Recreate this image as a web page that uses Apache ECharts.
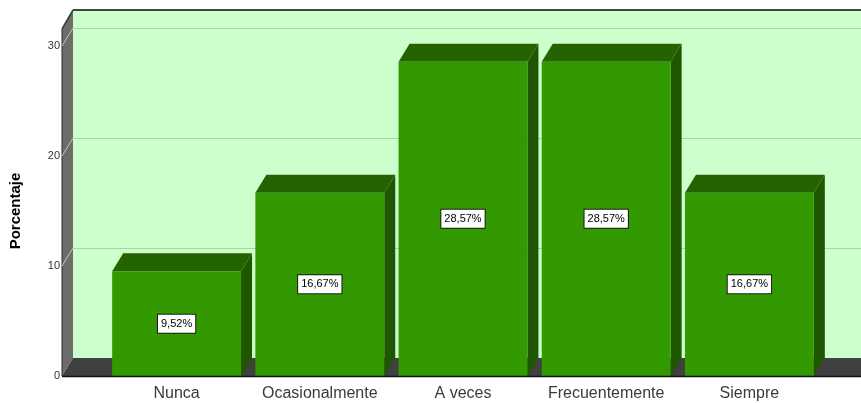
<!DOCTYPE html>
<html>
<head>
<meta charset="utf-8">
<script src="https://cdn.jsdelivr.net/npm/echarts@6/dist/echarts.min.js"></script>
<style>
  html, body { margin: 0; padding: 0; background: #ffffff; }
  #chart { width: 861px; height: 403px; }
</style>
</head>
<body>
<div id="chart"></div>
<script>
// Frequency distribution (percent of answers per option)
const categories = ['Nunca', 'Ocasionalmente', 'A veces', 'Frecuentemente', 'Siempre'];
const percentages = [9.52, 16.67, 28.57, 28.57, 16.67];
const yTicks = [0, 10, 20, 30];

// 3D look: depth offset of the back plane (px)
const DX = 11, DY = 18;
const FONT = '"Liberation Sans", Arial, sans-serif';

const chart = echarts.init(document.getElementById('chart'), null, { renderer: 'canvas' });

const yMin = yTicks[0], yMax = yTicks[yTicks.length - 1], yStep = yTicks[1] - yTicks[0];
const fmt = v => v.toFixed(2).replace('.', ',') + '%';

function renderBar(params, api) {
  const i = api.value(0), v = api.value(1);
  const base = api.coord([i, 0]);
  const top = api.coord([i, v]);
  const w = api.size([1, 0])[0] * 0.9;
  const x = base[0] - w / 2, y0 = base[1], y1 = top[1];
  return {
    type: 'group',
    children: [
      { type: 'polygon', shape: { points: [[x + w, y1], [x + w + DX, y1 - DY], [x + w + DX, y0 - DY], [x + w, y0]] },
        style: { fill: '#1f5700' } },
      { type: 'polygon', shape: { points: [[x, y1], [x + DX, y1 - DY], [x + w + DX, y1 - DY], [x + w, y1]] },
        style: { fill: '#236400' } },
      { type: 'rect', shape: { x: x, y: y1, width: w, height: y0 - y1 }, style: { fill: '#339900' } },
      { type: 'text', x: base[0], y: (y0 + y1) / 2,
        style: { text: fmt(v), align: 'center', verticalAlign: 'middle', fontSize: 11, fontFamily: FONT,
                 fill: '#000', backgroundColor: '#ffffff', borderColor: '#1a1a1a', borderWidth: 1,
                 padding: [4, 3, 3, 3] } }
    ]
  };
}

chart.setOption({
  animation: false,
  backgroundColor: '#ffffff',
  grid: [
    { left: 101, right: 40, top: 46, bottom: 27 },
    { left: 73, right: 0, top: 10, bottom: 45, show: true, backgroundColor: '#ccffcc', borderWidth: 0 }
  ],
  xAxis: [
    { type: 'category', gridIndex: 0, data: categories,
      axisLine: { show: false }, axisTick: { show: false }, splitLine: { show: false },
      axisLabel: { interval: 0, hideOverlap: false, fontSize: 16, color: '#3a3a3a', fontFamily: FONT, margin: 10 } },
    { type: 'value', gridIndex: 1, show: false, min: 0, max: 1 }
  ],
  yAxis: [
    { type: 'value', gridIndex: 0, min: yMin, max: yMax, interval: yStep, offset: 39,
      name: 'Porcentaje', nameLocation: 'middle', nameGap: 43,
      nameTextStyle: { fontSize: 15, fontWeight: 'bold', color: '#000', fontFamily: FONT },
      axisLine: { show: false }, axisTick: { show: false }, splitLine: { show: false },
      axisLabel: { fontSize: 11, color: '#333', fontFamily: FONT, margin: 6 } },
    { type: 'value', gridIndex: 1, min: yMin, max: yMax + DY / 11, interval: yStep,
      axisLine: { show: false }, axisTick: { show: false }, axisLabel: { show: false },
      splitLine: { show: true, lineStyle: { color: '#a6d6a6', width: 1 } } }
  ],
  series: [{
    type: 'custom',
    xAxisIndex: 0, yAxisIndex: 0,
    clip: false,
    z: 5,
    renderItem: renderBar,
    encode: { x: 0, y: 1 },
    data: percentages.map((v, i) => [i, v])
  }]
});

// Walls, floor and edges of the 3D frame, placed from the axes
const zeroY = chart.convertToPixel({ yAxisIndex: 0 }, 0);
const frontX = 62;
const backX = frontX + DX;
const wallTopBack = 10;
const wallTopFront = wallTopBack + DY + 1;
const W = chart.getWidth();

const frame = [
  { type: 'polygon', z: 1, shape: { points: [[frontX, wallTopFront], [backX, wallTopBack], [backX, zeroY - DY], [frontX, zeroY]] },
    style: { fill: '#6c6c6c' } },
  { type: 'polygon', z: 1, shape: { points: [[frontX, zeroY], [backX, zeroY - DY], [W, zeroY - DY], [W, zeroY]] },
    style: { fill: '#404040' } },
  { type: 'line', z: 2, shape: { x1: backX, y1: wallTopBack, x2: W, y2: wallTopBack }, style: { stroke: '#3c4a3c', lineWidth: 2 } },
  { type: 'line', z: 2, shape: { x1: frontX, y1: wallTopFront, x2: backX, y2: wallTopBack }, style: { stroke: '#3c3c3c', lineWidth: 1.5 } },
  { type: 'line', z: 2, shape: { x1: frontX, y1: wallTopFront, x2: frontX, y2: zeroY }, style: { stroke: '#2a2a2a', lineWidth: 1 } },
  { type: 'line', z: 6, shape: { x1: frontX, y1: zeroY + 0.5, x2: W, y2: zeroY + 0.5 }, style: { stroke: '#111', lineWidth: 1.5 } }
];
yTicks.slice(1).forEach(t => {
  const y = chart.convertToPixel({ yAxisIndex: 0 }, t);
  frame.push({ type: 'line', z: 2, shape: { x1: frontX, y1: y, x2: backX, y2: y - DY },
               style: { stroke: '#c4c4c4', lineWidth: 1 } });
});
chart.setOption({ graphic: { elements: frame } });
</script>
</body>
</html>
